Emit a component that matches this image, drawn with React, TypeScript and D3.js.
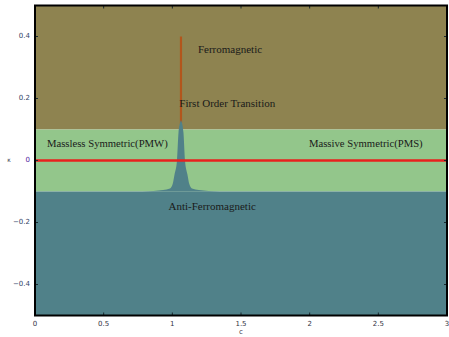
import React from "react";
import * as d3 from "d3";

const xTicks = [0, 0.5, 1, 1.5, 2, 2.5, 3];
const yTicks = [-0.4, -0.2, 0, 0.2, 0.4];
const xTickLabels = ["0", "0.5", "1", "1.5", "2", "2.5", "3"];
const yTickLabels = ["\u22120.4", "\u22120.2", "0", "0.2", "0.4"];

// phase regions (kappa ranges)
const regionNames = ["Ferromagnetic", "Symmetric", "Anti-Ferromagnetic"];
const regionLow = [0.1, -0.1, -0.5];
const regionHigh = [0.5, 0.1, -0.1];
const regionColors = ["#8e8350", "#93c68b", "#508189"];

// anti-ferromagnetic spike boundary (c, kappa)
const spikeC = [0.783, 0.863, 0.933, 0.983, 1.003, 1.016, 1.034, 1.045, 1.055, 1.063, 1.071, 1.081, 1.092, 1.11, 1.123, 1.143, 1.193, 1.263, 1.343];
const spikeK = [-0.1, -0.098, -0.095, -0.09, -0.075, -0.045, 0.0, 0.09, 0.12, 0.13, 0.12, 0.09, 0.0, -0.045, -0.075, -0.09, -0.095, -0.098, -0.1];

// first order transition line
const transC = [1.063, 1.063];
const transK = [0.4, 0.12];

const labels = ["Ferromagnetic", "First Order Transition", "Massless Symmetric(PMW)", "Massive Symmetric(PMS)", "Anti-Ferromagnetic"];
const labelC = [1.42, 1.4, 0.087, 1.995, 1.29];
const labelK = [0.355, 0.18, 0.05, 0.05, -0.15];
const labelAnchor = ["middle", "middle", "start", "start", "middle"];

export default function App() {
  const W = 449, H = 337;
  const x = d3.scaleLinear().domain([0, 3]).range([35, 447]);
  const y = d3.scaleLinear().domain([-0.5, 0.5]).range([315.5, 5.5]);

  const spikePts: [number, number][] = spikeC.map((c, i) => [c, spikeK[i]]);
  const area = d3
    .area<[number, number]>()
    .x((d) => x(d[0]))
    .y0(y(-0.1))
    .y1((d) => y(d[1]))
    .curve(d3.curveMonotoneX);

  return (
    <svg width={W} height={H} style={{ position: "absolute", left: 0, top: 0 }}>
      {regionNames.map((n, i) => (
        <rect
          key={n}
          x={x(0)}
          width={x(3) - x(0)}
          y={y(regionHigh[i])}
          height={y(regionLow[i]) - y(regionHigh[i])}
          fill={regionColors[i]}
        />
      ))}
      <line
        x1={x(transC[0])}
        x2={x(transC[1])}
        y1={y(transK[0])}
        y2={y(transK[1])}
        stroke="#b2561c"
        strokeWidth={2.2}
      />
      <path d={area(spikePts) || ""} fill={regionColors[2]} />
      <line x1={x(0)} x2={x(3)} y1={y(0)} y2={y(0)} stroke="#e8211d" strokeWidth={2.5} />
      {labels.map((t, i) => (
        <text
          key={t}
          x={x(labelC[i])}
          y={y(labelK[i])}
          textAnchor={labelAnchor[i] as any}
          dominantBaseline="middle"
          fontFamily="Liberation Serif, serif"
          fontSize={i === 2 || i === 3 ? 10.7 : 11}
          fill="#1a1a1a"
        >
          {t}
        </text>
      ))}
      {/* ticks */}
      {xTicks.map((t) => (
        <g key={"xt" + t}>
          <line x1={x(t)} x2={x(t)} y1={y(-0.5)} y2={y(-0.5) - 3} stroke="#1a2a30" strokeWidth={1} />
          <line x1={x(t)} x2={x(t)} y1={y(0.5)} y2={y(0.5) + 3} stroke="#1a2a30" strokeWidth={1} />
        </g>
      ))}
      {yTicks.map((t) => (
        <g key={"yt" + t}>
          <line x1={x(0)} x2={x(0) + 3} y1={y(t)} y2={y(t)} stroke="#1a2a30" strokeWidth={1} />
          <line x1={x(3)} x2={x(3) - 3} y1={y(t)} y2={y(t)} stroke="#1a2a30" strokeWidth={1} />
        </g>
      ))}
      <rect
        x={x(0)}
        y={y(0.5)}
        width={x(3) - x(0)}
        height={y(-0.5) - y(0.5)}
        fill="none"
        stroke="#000"
        strokeWidth={2}
      />
      {xTicks.map((t, i) => (
        <text
          key={"xl" + t}
          x={x(t)}
          y={326}
          textAnchor="middle"
          fontFamily="DejaVu Sans, sans-serif"
          fontSize={7}
          fill="#334"
        >
          {xTickLabels[i]}
        </text>
      ))}
      {yTicks.map((t, i) => (
        <text
          key={"yl" + t}
          x={30}
          y={y(t)}
          textAnchor="end"
          dominantBaseline="middle"
          fontFamily="DejaVu Sans, sans-serif"
          fontSize={7}
          fill={t === 0 ? "#5020a0" : "#334466"}
        >
          {yTickLabels[i]}
        </text>
      ))}
      <text x={241} y={334} textAnchor="middle" fontFamily="DejaVu Sans, sans-serif" fontSize={7} fill="#334">
        c
      </text>
      <text x={9} y={y(0)} textAnchor="middle" dominantBaseline="middle" fontFamily="DejaVu Sans, sans-serif" fontSize={6} fill="#334">
        κ
      </text>
    </svg>
  );
}
